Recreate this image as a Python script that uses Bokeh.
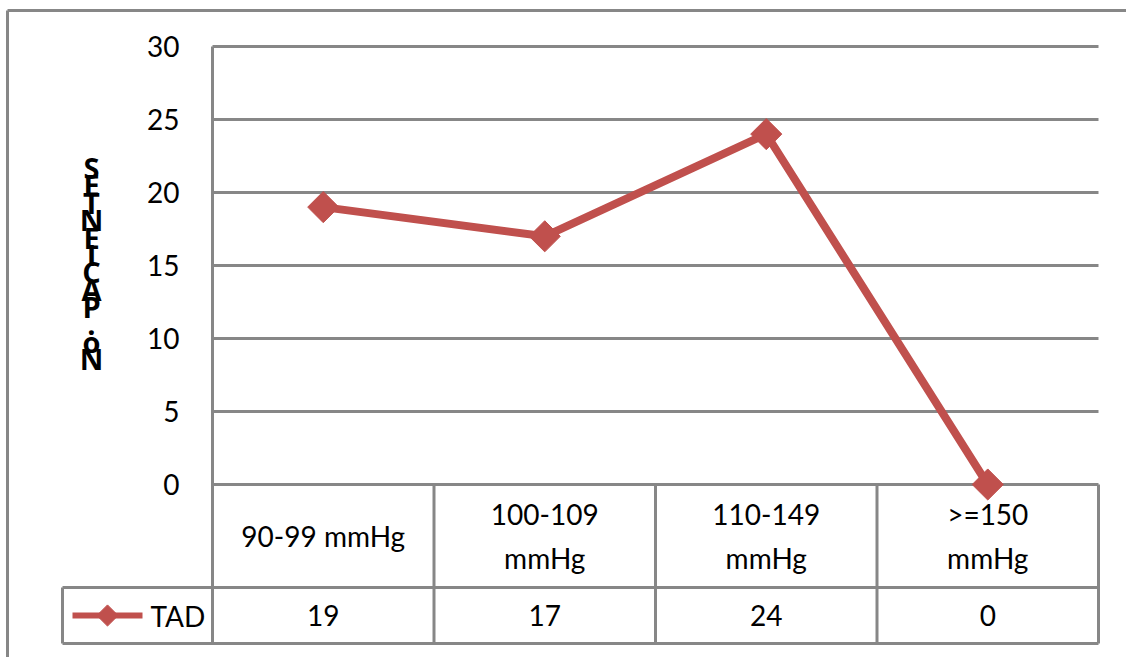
import math

from bokeh.core.properties import value
from bokeh.embed import file_html
from bokeh.models import ColumnDataSource, Range1d
from bokeh.plotting import figure
from bokeh.resources import INLINE

# ---- data -------------------------------------------------------------
categories = ["90-99 mmHg", "100-109\nmmHg", "110-149\nmmHg", ">=150\nmmHg"]
tad_values = [19, 17, 24, 0]
series_name = "TAD"
y_ticks = [0, 5, 10, 15, 20, 25, 30]
y_title = "No.PACIENTES"

# ---- layout (pixels from the top-left corner) -------------------------
W, H = 1126, 657
PLOT_L, PLOT_R = 212, 1098       # plot area / table columns
PLOT_T, ZERO_Y = 46, 484         # rows of value 30 and value 0
CAT_ROW_B, VAL_ROW_B = 587, 643  # bottom of the label row and value row
LEGEND_L = 62                    # left edge of the series key cell
KEY_X0, KEY_X1, KEY_TEXT_X = 72, 142, 150
BORDER_L, BORDER_T = 7, 10       # chart area border
TICK_LABEL_R = 179
TITLE_X, TITLE_TOP, TITLE_STEP = 91, 167, 17.4

GRAY = "#878787"
RED = "#C0504D"
FONT = "Lato"
TITLE_FONT = "Open Sans"

n = len(categories)
y_max = max(y_ticks)
px_x = (PLOT_R - PLOT_L) / n
px_y = (ZERO_Y - PLOT_T) / y_max


def ydata(py):
    return (ZERO_Y - py) / px_y


def xdata(px):
    return (px - PLOT_L) / px_x


# The frame fills the whole canvas; the value scale maps 0..30 onto the
# plot area and the category scale maps 0..n onto the table columns.
p = figure(
    width=W, height=H,
    x_range=Range1d(xdata(0), xdata(W)),
    y_range=Range1d(ydata(H), ydata(0)),
    x_axis_type=None, y_axis_type=None,
    min_border=0, min_border_left=0, min_border_right=0,
    min_border_top=0, min_border_bottom=0,
    title=None, toolbar_location=None, output_backend="svg",
    outline_line_color=None, background_fill_color="white",
    border_fill_color="white",
)
p.grid.visible = False

# chart area border (left and top edges are on the canvas)
p.segment(x0=[xdata(BORDER_L)] * 2, y0=[ydata(BORDER_T)] * 2,
          x1=[xdata(BORDER_L), xdata(W + 10)],
          y1=[ydata(H + 10), ydata(BORDER_T)],
          line_color=GRAY, line_width=3)

cat_row_y = ydata(CAT_ROW_B)
val_row_y = ydata(VAL_ROW_B)
key_x0 = xdata(LEGEND_L)

# horizontal grid lines at the value ticks
p.segment(x0=[0] * len(y_ticks), x1=[n] * len(y_ticks),
          y0=y_ticks, y1=y_ticks, line_color=GRAY, line_width=3)

# value axis line, running down through the table
p.segment(x0=[0], x1=[0], y0=[y_max], y1=[val_row_y],
          line_color=GRAY, line_width=3)

# tick labels
p.text(x=[xdata(TICK_LABEL_R)] * len(y_ticks), y=y_ticks,
       text=[str(t) for t in y_ticks],
       text_font=value(FONT), text_font_size="28px", text_color="black",
       text_align="right", text_baseline="middle")

# stacked axis title
title_chars = list(reversed(y_title))
p.text(x=[xdata(TITLE_X)] * len(title_chars),
       y=[ydata(TITLE_TOP + i * TITLE_STEP) for i in range(len(title_chars))],
       text=title_chars,
       text_font=value(TITLE_FONT), text_font_style="bold",
       text_font_size="29px",
       text_color="black", text_align="center", text_baseline="middle")

# data table under the plot area, with the series key cell on the left
bounds = list(range(1, n + 1))
table_lines = ColumnDataSource(dict(
    x0=[key_x0, key_x0, key_x0] + bounds,
    x1=[n, n, key_x0] + bounds,
    y0=[cat_row_y, val_row_y, cat_row_y] + [0] * n,
    y1=[cat_row_y, val_row_y, val_row_y] + [val_row_y] * n,
))
p.segment(x0="x0", y0="y0", x1="x1", y1="y1", source=table_lines,
          line_color=GRAY, line_width=3)

centers = [i + 0.5 for i in range(n)]
p.text(x=centers, y=[cat_row_y / 2] * n, text=categories,
       text_font=value(FONT), text_font_size="28px", text_color="black",
       text_align="center", text_baseline="middle", text_line_height=1.3)
val_mid = (cat_row_y + val_row_y) / 2
p.text(x=centers, y=[val_mid] * n,
       text=[str(v) for v in tad_values],
       text_font=value(FONT), text_font_size="28px", text_color="black",
       text_align="center", text_baseline="middle")

# the series
p.line(x=centers, y=tad_values, line_color=RED, line_width=8,
       line_join="round")
p.scatter(x=centers, y=tad_values, marker="square", size=22,
          angle=math.pi / 4, fill_color=RED, line_color=RED,
          line_join="round")

# series key in the table's first cell
kx0, kx1 = xdata(KEY_X0), xdata(KEY_X1)
p.line(x=[kx0, kx1], y=[val_mid, val_mid], line_color=RED, line_width=6)
p.scatter(x=[(kx0 + kx1) / 2], y=[val_mid], marker="square", size=15,
          angle=math.pi / 4, fill_color=RED, line_color=RED)
p.text(x=[xdata(KEY_TEXT_X)], y=[val_mid], text=[series_name],
       text_font=value(FONT), text_font_size="28px", text_color="black",
       text_align="left", text_baseline="middle")

open("out.html", "w").write(file_html(p, INLINE))
